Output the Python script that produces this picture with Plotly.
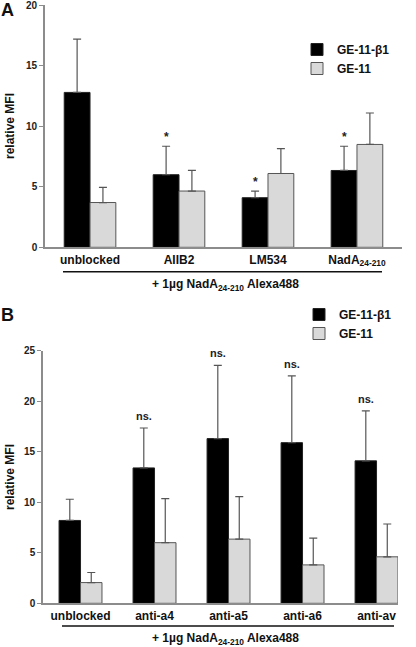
import plotly.graph_objects as go

# ---------------- data ----------------
cats_a = ["unblocked", "AIIB2", "LM534", "NadA<sub>24-210</sub>"]
ge11b1_a = [12.8, 6.0, 4.1, 6.35]
ge11b1_a_err = [4.4, 2.35, 0.55, 2.0]
ge11_a = [3.7, 4.65, 6.1, 8.5]
ge11_a_err = [1.25, 1.7, 2.05, 2.6]
sig_a = ["", "*", "*", "*"]

cats_b = ["unblocked", "anti-a4", "anti-a5", "anti-a6", "anti-av"]
ge11b1_b = [8.2, 13.4, 16.3, 15.9, 14.1]
ge11b1_b_err = [2.1, 3.95, 7.25, 6.6, 4.95]
ge11_b = [2.05, 6.0, 6.35, 3.8, 4.6]
ge11_b_err = [1.0, 4.35, 4.2, 2.65, 3.25]
sig_b = ["", "ns.", "ns.", "ns.", "ns."]

yticks_a = [0, 5, 10, 15, 20]
yticks_b = [0, 5, 10, 15, 20, 25]
series_names = ["GE-11-\u03b21", "GE-11"]
xlabel = "+ 1\u00b5g NadA<sub>24-210</sub> Alexa488"
ylabel = "relative MFI"

W, H = 416, 647
FONT = "Arial, Liberation Sans, sans-serif"
AXC = "#8c8c8c"
BW = 0.29

A_TOP, A_BOT = 5.3, 247.3
B_TOP, B_BOT = 350.7, 603.3

def px(x):
    return x / W

def py(y):
    return 1 - y / H

fig = go.Figure()

def add_panel(cats, b1, b1e, g, ge, xa, ya, legend, sig):
    xs = list(range(len(cats)))
    fig.add_trace(go.Bar(
        x=xs, y=b1, width=BW, offset=-BW, name="<b>%s</b>" % series_names[0],
        marker=dict(color="black", line=dict(color="#222222", width=1)),
        error_y=dict(type="data", symmetric=False, array=b1e, arrayminus=[0] * len(b1),
                     color="#555555", thickness=1.2, width=4),
        xaxis=xa, yaxis=ya, legend=legend, showlegend=True))
    fig.add_trace(go.Bar(
        x=xs, y=g, width=BW, offset=0, name="<b>%s</b>" % series_names[1],
        marker=dict(color="#d9d9d9", line=dict(color="#555555", width=1)),
        error_y=dict(type="data", symmetric=False, array=ge, arrayminus=[0] * len(g),
                     color="#555555", thickness=1.2, width=4),
        xaxis=xa, yaxis=ya, legend=legend, showlegend=True))
    for i, s in enumerate(sig):
        if s:
            fig.add_annotation(x=i - BW / 2, y=b1[i] + b1e[i], text="<b>%s</b>" % s,
                               xref=xa, yref=ya, showarrow=False, yanchor="bottom",
                               xanchor="center", yshift=0 if s == "*" else 4,
                               font=dict(family=FONT, size=12 if s == "*" else 11, color="#222"))

add_panel(cats_a, ge11b1_a, ge11b1_a_err, ge11_a, ge11_a_err, "x", "y", "legend", sig_a)
add_panel(cats_b, ge11b1_b, ge11b1_b_err, ge11_b, ge11_b_err, "x2", "y2", "legend2", sig_b)

axis_common = dict(showline=True, linecolor=AXC, linewidth=1.6, showgrid=False, zeroline=False,
                   automargin=False, ticklabeloverflow="allow")
tickfont = dict(family=FONT, size=10, color="#222")
catfont = dict(family=FONT, size=12, color="#111")

fig.update_layout(
    width=W, height=H, margin=dict(l=0, r=0, t=0, b=0, autoexpand=False),
    plot_bgcolor="white", paper_bgcolor="white",
    barmode="overlay",
    xaxis=dict(domain=[px(45), px(402)], range=[-0.506, 3.506], anchor="y",
               tickvals=list(range(len(cats_a))), ticktext=["<b>%s</b>" % c for c in cats_a],
               ticks="", tickfont=catfont, **axis_common),
    yaxis=dict(domain=[py(A_BOT), py(A_TOP)], range=[0, 20], anchor="x",
               tickvals=yticks_a, ticktext=["<b>%d</b>" % v for v in yticks_a],
               ticks="outside", ticklen=4, tickcolor=AXC, tickwidth=1.2, tickfont=tickfont,
               **axis_common),
    xaxis2=dict(domain=[px(43), px(398)], range=[-0.507, 4.29], anchor="y2",
                tickvals=list(range(len(cats_b))), ticktext=["<b>%s</b>" % c for c in cats_b],
                ticks="", tickfont=catfont, **axis_common),
    yaxis2=dict(domain=[py(B_BOT), py(B_TOP)], range=[0, 25], anchor="x2",
                tickvals=yticks_b, ticktext=["<b>%d</b>" % v for v in yticks_b],
                ticks="outside", ticklen=4, tickcolor=AXC, tickwidth=1.2, tickfont=tickfont,
                **axis_common),
    legend=dict(x=px(297), y=py(35), xanchor="left", yanchor="top",
                font=dict(family=FONT, size=12, color="#111"), bgcolor="rgba(0,0,0,0)",
                tracegroupgap=0, itemwidth=30),
    legend2=dict(x=px(299), y=py(300), xanchor="left", yanchor="top",
                 font=dict(family=FONT, size=12, color="#111"), bgcolor="rgba(0,0,0,0)",
                 tracegroupgap=0, itemwidth=30),
)

def paper_text(x, y, text, size, angle=0):
    fig.add_annotation(x=px(x), y=py(y), xref="paper", yref="paper", showarrow=False,
                       xanchor="center", yanchor="middle", textangle=angle, borderpad=0,
                       text=text, font=dict(family=FONT, size=size, color="#111"))

# underlines and common x labels
for (x0, x1, y) in [(63, 382, 271.7), (62, 394, 626)]:
    fig.add_shape(type="line", xref="paper", yref="paper", x0=px(x0), x1=px(x1),
                  y0=py(y), y1=py(y), line=dict(color="#111", width=1.6))
for yy in [285, 639]:
    paper_text(226, yy, "<b>%s</b>" % xlabel, 12)
# y labels
for yy in [126, 477]:
    paper_text(10, yy, "<b>%s</b>" % ylabel, 12, angle=-90)
# panel letters
for letter, yy in [("A", 10), ("B", 315)]:
    paper_text(7, yy, "<b>%s</b>" % letter, 18)

fig.write_html("out.html", config={"displayModeBar": False},
               post_script="document.body.style.margin='0px';document.body.style.overflow='hidden';")
